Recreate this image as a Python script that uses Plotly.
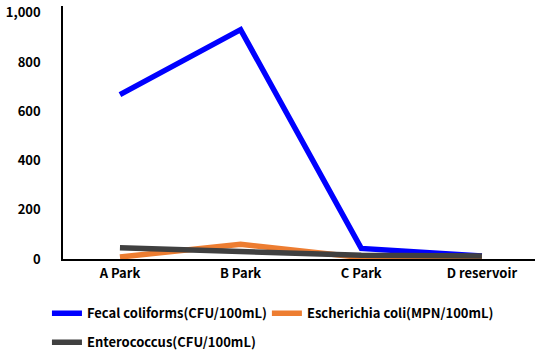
import plotly.graph_objects as go

sites = ["A Park", "B Park", "C Park", "D reservoir"]
fecal_coliforms = [668, 932, 43, 12]
e_coli = [8, 60, 6, 5]
enterococcus = [46, 32, 15, 12]

y_ticks = [0, 200, 400, 600, 800, 1000]
y_tick_text = ["0", "200", "400", "600", "800", "1,000"]

FONT = "Noto Sans CJK KR"
TXT = dict(family=FONT, size=13, color="#000000", weight="bold")

fig = go.Figure()
series = [
    ("Fecal coliforms(CFU/100mL)", fecal_coliforms, "#0000FF", "legend"),
    ("Escherichia coli(MPN/100mL)", e_coli, "#ED7D31", "legend3"),
    ("Enterococcus(CFU/100mL)", enterococcus, "#404040", "legend2"),
]
for name, vals, color, leg in series:
    fig.add_trace(go.Scatter(
        x=list(range(len(sites))), y=vals, name=name, mode="lines",
        line=dict(color=color, width=5.5), legend=leg,
    ))

legend_common = dict(
    orientation="h", xanchor="left", yanchor="top",
    itemwidth=30, font=TXT, bgcolor="rgba(0,0,0,0)",
)

fig.update_layout(
    width=535, height=350,
    margin=dict(l=63, r=0, t=6, b=91, autoexpand=False),
    paper_bgcolor="white", plot_bgcolor="white",
    font=TXT,
    showlegend=True,
    legend=dict(x=-0.034, y=-0.155, **legend_common),
    legend3=dict(x=0.432, y=-0.155, **legend_common),
    legend2=dict(x=-0.034, y=-0.27, **legend_common),
    xaxis=dict(
        range=[-0.472, 3.44], tickvals=list(range(len(sites))), ticktext=sites,
        showgrid=False, zeroline=False, showline=True, linecolor="#000000", linewidth=1.5,
        ticks="", ticklabelstandoff=2,
    ),
    yaxis=dict(
        range=[0, 1028], tickvals=y_ticks, ticktext=y_tick_text,
        showgrid=False, zeroline=False, showline=True, linecolor="#000000", linewidth=1.5,
        ticks="", ticklabelstandoff=18,
    ),
)

fig.write_html("out.html")
